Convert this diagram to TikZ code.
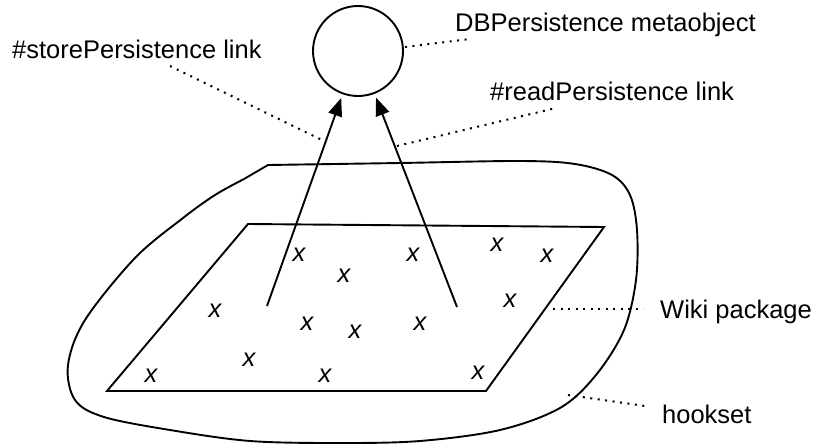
\documentclass[tikz,border=0pt]{standalone}
\usepackage{fontspec}
\setmainfont{Liberation Sans}
\usetikzlibrary{arrows.meta}
\begin{document}
\begin{tikzpicture}[x=1pt,y=-1pt,
  lbl/.style={anchor=base west,inner sep=0pt,font=\fontsize{25.5}{30}\selectfont},
  cross/.style={inner sep=0pt,font=\fontsize{25.5}{30}\selectfont\itshape},
  thin line/.style={line width=1.9pt},
  leader/.style={line width=2pt,dash pattern=on 2pt off 5.5pt},
  link/.style={line width=1.9pt,-{Triangle[length=18pt,width=14pt]},shorten >=4pt}]
\useasboundingbox (0,0) rectangle (815,444);
% hookset blob
\draw[thin line,line join=miter] plot[smooth,tension=0.55] coordinates {(268,165) (400,163) (520,161) (575,164) (612,175) (630,195) (637,230) (636,280) (624,330) (596,375) (560,408) (500,430) (420,441) (339,443) (250,441) (170,430) (104,417) (75,400) (68,365) (85,320) (135,258) (183,218) (215,195) (244,179)} -- (268,165);
% Wiki package parallelogram
\draw[thin line] (248,224) -- (604,227) -- (486,391) -- (107,391) -- cycle;
% metaobject
\node[draw,circle,thin line,minimum size=90pt,inner sep=0pt] (obj) at (358,51) {};
% arrows
\coordinate (sb) at (267,306);
\coordinate (rb) at (457,307);
\draw[link] (sb) -- (obj);
\draw[link] (rb) -- (obj);
% crosses
\node[cross] (x1) at (299,255) {x};
\node[cross] (x2) at (413,255) {x};
\node[cross] (x3) at (497,245) {x};
\node[cross] (x4) at (547,256) {x};
\node[cross] (x5) at (344,276) {x};
\node[cross] (x6) at (215,311) {x};
\node[cross] (x7) at (510,301) {x};
\node[cross] (x8) at (307,324) {x};
\node[cross] (x9) at (355,332) {x};
\node[cross] (x10) at (420,324) {x};
\node[cross] (x11) at (249,360) {x};
\node[cross] (x12) at (151,376) {x};
\node[cross] (x13) at (325,376) {x};
\node[cross] (x14) at (478,373) {x};
% labels
\node[lbl] (lstore) at (12,59) {\#storePersistence link};
\node[lbl] (ldb) at (455,32) {DBPersistence metaobject};
\node[lbl] (lread) at (490,100) {\#readPersistence link};
\node[lbl] (lwiki) at (660,318) {Wiki package};
\node[lbl] (lhook) at (662,423) {hookset};
% leader lines
\coordinate (d1a) at (405,47); \coordinate (d1b) at (470,39);
\coordinate (d2a) at (170,66); \coordinate (d2b) at (326,142);
\coordinate (d3a) at (397,146); \coordinate (d3b) at (556,108);
\coordinate (d4a) at (553,309); \coordinate (d4b) at (643,309);
\coordinate (d5a) at (568,395); \coordinate (d5b) at (645,406);
\draw[leader] (d1a) -- (d1b);
\draw[leader] (d2a) -- (d2b);
\draw[leader] (d3a) -- (d3b);
\draw[leader] (d4a) -- (d4b);
\draw[leader] (d5a) -- (d5b);
\end{tikzpicture}
\end{document}
